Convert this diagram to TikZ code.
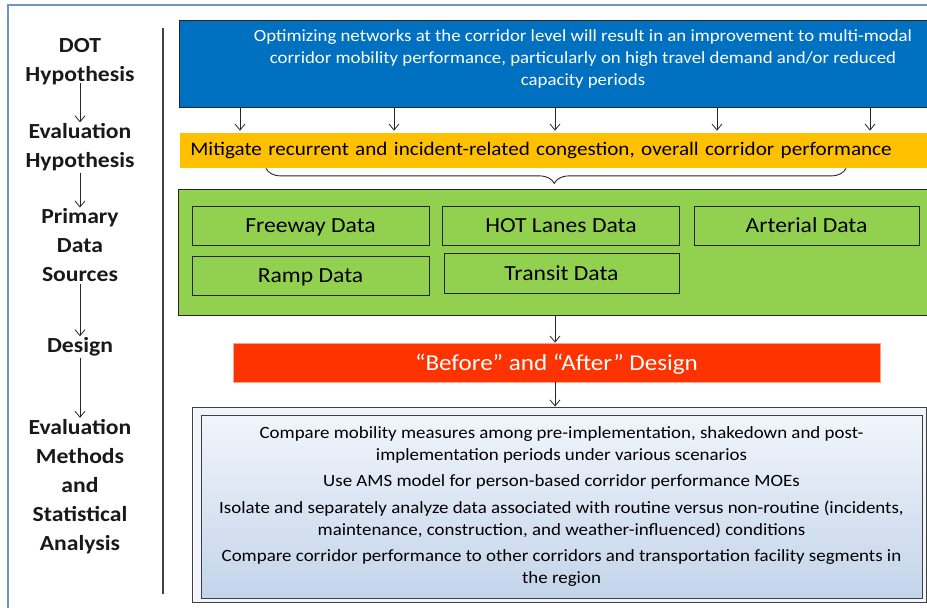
\documentclass[tikz,border=0pt]{standalone}
\usepackage{fontspec}
\setmainfont[FakeStretch=1.1]{Carlito}
\usetikzlibrary{arrows.meta,decorations.pathreplacing,positioning,calc}
\tikzset{every picture/.style={line width=0.75pt}}
\definecolor{hypblue}{HTML}{0070C0}
\definecolor{mitorange}{HTML}{FFC000}
\definecolor{datagreen}{HTML}{92D050}
\definecolor{designred}{HTML}{FF3300}
\definecolor{framebl}{HTML}{6F95C8}
\definecolor{methtop}{HTML}{F1F5FB}
\definecolor{methbot}{HTML}{C3D4EA}

\begin{document}
\begin{tikzpicture}[x=1pt,y=-1pt,
    stage/.style={font=\fontsize{21.5}{29}\selectfont\bfseries, align=center, inner sep=1pt, text=black!90},
    arr/.style={-{Straight Barb[length=6pt,width=10pt]}, line width=0.8pt, black!85},
    databox/.style={draw=black!85, fill=datagreen, line width=0.9pt, inner sep=0pt, minimum height=39pt, text depth=0pt, font=\fontsize{21.5}{24}\selectfont}]
    \useasboundingbox (0,0) rectangle (927,608);
    % outer frame and separator
    \draw[framebl, line width=1.5pt] (8,612) -- (8,5) -- (932,5);
    \draw[black!75, line width=1.2pt] (163,28) -- (163,594);

    % stage labels on the left
    \node[stage] (doth) at (80,61.5) {DOT\\Hypothesis};
    \node[stage] (evalh) at (80,147.5) {Evaluation\\Hypothesis};
    \node[stage] (prim) at (80,245.5) {Primary\\Data\\Sources};
    \node[stage] (des) at (80,347) {Design};
    \node[stage] (evalm) at (80,486.5) {Evaluation\\Methods\\and\\Statistical\\Analysis};
    \draw[arr] (doth.south) ++(0,-3) -- (evalh.north);
    \draw[arr] (evalh) -- (prim);
    \draw[arr] (prim) -- (des);
    \draw[arr] (des) -- (evalm);

    % hypothesis box
    \node[draw=black!85, fill=hypblue, minimum width=808pt, minimum height=87pt, inner sep=0pt] (hyp) at (583,63.5) {};
    \node[font=\fontsize{17.1}{22}\selectfont, text=white, align=center] (hyptext) at (583,59)
        {Optimizing networks at the corridor level will result in an improvement to multi-modal\\
         corridor mobility performance, particularly on high travel demand and/or reduced\\
         capacity periods};

    % evaluation hypothesis bar
    \node[fill=mitorange, minimum height=35pt, text width=740pt, inner xsep=10pt, inner ysep=0pt, align=left,
          anchor=west, font=\fontsize{19.2}{23}\selectfont] (mit) at (180,150.5)
        {Mitigate recurrent and incident-related congestion, overall corridor performance};
    \foreach \x in {240,394,555,717,870}
        \draw[arr, shorten >=2pt] (hyp.south -| \x,0) -- (mit.north -| \x,0);
    \draw[black!85, line width=0.9pt, decorate, decoration={brace, mirror, amplitude=15pt, aspect=0.497}]
        (mit.south -| 266,0) -- (mit.south -| 846,0);

    % data sources
    \node[draw=black!85, fill=datagreen, line width=0.9pt, minimum width=760pt, minimum height=126pt, anchor=north west, inner sep=0pt] (src) at (178,189) {};
    \node[databox, minimum width=237pt] (fwy) at (310.5,225.5) {Freeway Data};
    \node[databox, minimum width=237pt] (hot) at (561,225.5) {HOT Lanes Data};
    \node[databox, minimum width=225pt] (art) at (806.5,225.5) {Arterial Data};
    \node[databox, minimum width=237pt] (ramp) at (310.5,275.5) {Ramp Data};
    \node[databox, minimum width=235pt, minimum height=40pt] (trn) at (561.5,273.5) {Transit Data};

    % design
    \node[draw=designred!45, fill=designred, minimum width=647pt, minimum height=39pt, inner sep=0pt, text depth=0pt,
          text=white, font=\fontsize{22.8}{24}\selectfont] (design) at (556.5,362.5) {``Before'' and ``After'' Design};
    \draw[arr] (src.south -| 555,0) -- (design.north -| 555,0);

    % evaluation methods
    \node[draw=black!75, fill=methtop, line width=0.9pt, minimum width=734pt, minimum height=195pt, inner sep=0pt] (methframe) at (559,504.5) {};
    \node[draw=black!75, top color=methtop, bottom color=methbot, line width=0.9pt, minimum width=721pt, minimum height=183pt,
          inner sep=0pt, align=center, font=\fontsize{17.2}{22}\selectfont] (meth) at (561.5,506.5)
        {Compare mobility measures among pre-implementation, shakedown and post-\\
         implementation periods under various scenarios\\[4.5pt]
         Use AMS model for person-based corridor performance MOEs\\[4.5pt]
         Isolate and separately analyze data associated with routine versus non-routine (incidents,\\
         maintenance, construction, and weather-influenced) conditions\\[4.5pt]
         Compare corridor performance to other corridors and transportation facility segments in\\
         the region};
    \draw[arr] (design.south -| 555,0) -- (methframe.north -| 555,0);
\end{tikzpicture}
\end{document}
